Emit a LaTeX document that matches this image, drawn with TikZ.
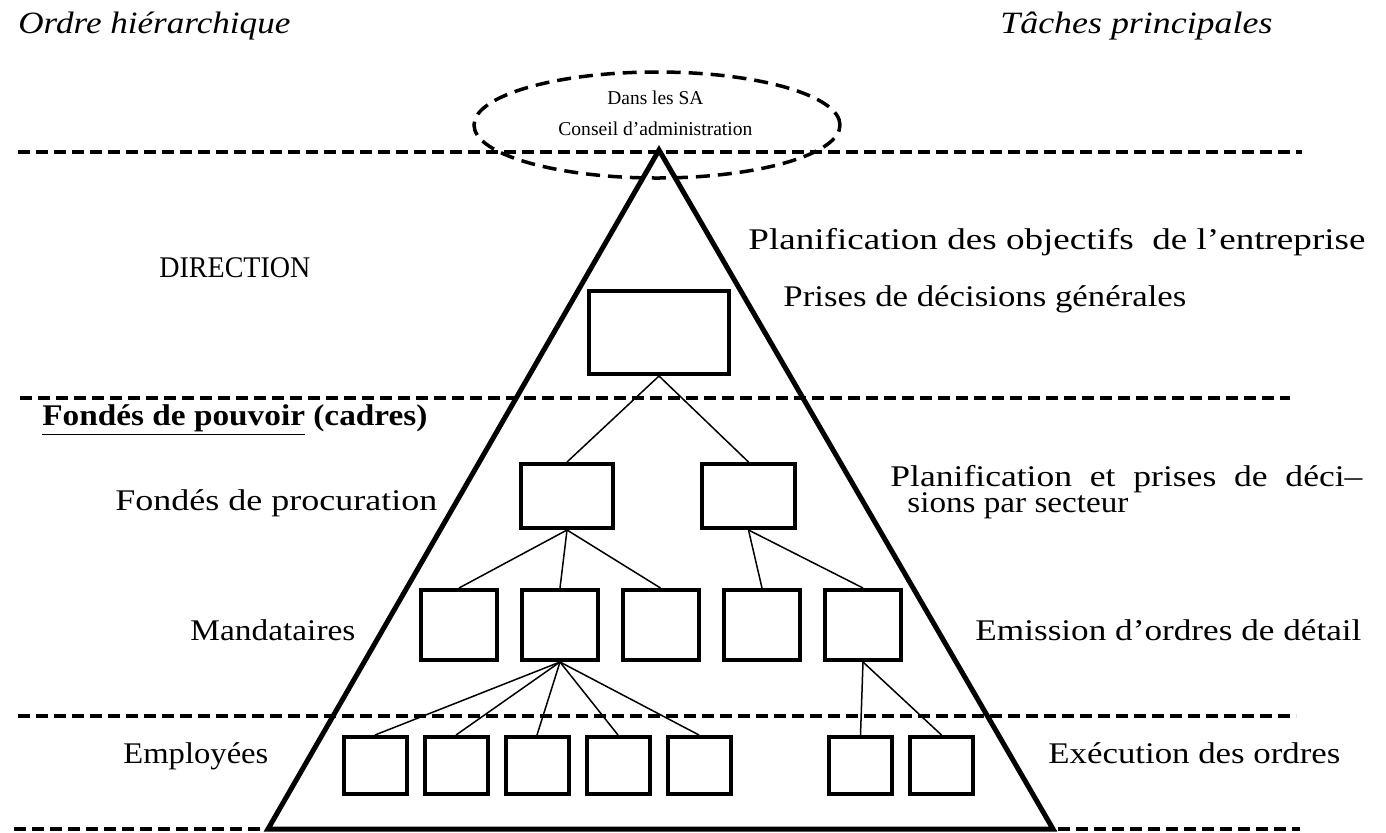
\documentclass[tikz,border=0pt]{standalone}
\usepackage{fontspec}
\usepackage{graphicx}
\setmainfont{Liberation Serif}
\usetikzlibrary{shapes.geometric}
\newcommand\fitw[2]{\resizebox{#1}{\height}{#2}}
\tikzset{
  lvl/.style={line width=2pt, dash pattern=on 6pt off 3pt},
  tri/.style={line width=2.5pt, line join=miter},
  box/.style={draw, line width=2pt, inner sep=0pt, fill=white},
  conn/.style={line width=0.75pt},
  lbl/.style={anchor=base west, inner sep=0pt, font=\fontsize{15pt}{18pt}\selectfont},
  head/.style={anchor=base west, inner sep=0pt, font=\fontsize{15.5pt}{18pt}\selectfont\itshape},
  small/.style={anchor=base west, inner sep=0pt, font=\fontsize{9.8pt}{11pt}\selectfont},
  ell/.style={draw, ellipse, line width=1.75pt, dash pattern=on 7pt off 4pt, inner sep=0pt}
}
\begin{document}
\begin{tikzpicture}[x=0.5pt,y=-0.5pt]
\useasboundingbox (0,0) rectangle (1386,832);
% level lines
\coordinate (l1a) at (18,152);  \coordinate (l1b) at (1302,152);
\coordinate (l2a) at (20,398);  \coordinate (l2b) at (1290,398);
\coordinate (l3a) at (18,716);  \coordinate (l3b) at (1296,716);
\coordinate (l4a) at (14,829);  \coordinate (l4b) at (1300,829);
\draw[lvl] (l1a) -- (l1b);
\draw[lvl] (l2a) -- (l2b);
\draw[lvl] (l3a) -- (l3b);
\draw[lvl] (l4a) -- (l4b);
% pyramid
\coordinate (apex) at (659,150);
\coordinate (bl) at (268,829);
\coordinate (br) at (1053,829);
\draw[tri] (apex) -- (bl) -- (br) -- cycle;
% boxes
\node[box, minimum width=70pt, minimum height=41.5pt] (d) at (659,332.5) {};
\node[box, minimum width=46pt, minimum height=32pt] (p1) at (567,496) {};
\node[box, minimum width=46.5pt, minimum height=32pt] (p2) at (748.5,496) {};
\foreach \n/\x in {1/459,2/560,3/660.5,4/762,5/863}
  \node[box, minimum width=38pt, minimum height=35pt] (m\n) at (\x,625) {};
\foreach \n/\x in {1/375,2/456,3/537,4/618,5/699,6/860.5,7/941.5}
  \node[box, minimum width=31.5pt, minimum height=28.5pt] (e\n) at (\x,765.5) {};
% connectors
\draw[conn] (d.south) -- (p1.north);
\draw[conn] (d.south) -- (p2.north);
\draw[conn] (p1.south) -- (m1.north);
\draw[conn] (p1.south) -- (m2.north);
\draw[conn] (p1.south) -- (m3.north);
\draw[conn] (p2.south) -- (m4.north);
\draw[conn] (p2.south) -- (m5.north);
\foreach \n in {1,...,5} \draw[conn] (m2.south) -- (e\n.north);
\draw[conn] (m5.south) -- (e6.north);
\draw[conn] (m5.south) -- (e7.north);
% board ellipse
\node[ell, minimum width=183pt, minimum height=53pt] (ca) at (657,125) {};
\node[small] (ca1) at (607,104) {\fitw{48pt}{Dans les SA}};
\node[small] (ca2) at (558,135) {\fitw{97pt}{Conseil d’administration}};
% headings
\node[head] (h1) at (18,33) {\fitw{136pt}{Ordre hiérarchique}};
\node[head] (h2) at (1000,33) {\fitw{136pt}{Tâches principales}};
% left labels
\node[lbl] (t1) at (159,277) {\fitw{75.5pt}{DIRECTION}};
\node[lbl] (t2) at (42,425) {\fitw{192.5pt}{\bfseries\underline{Fondés de pouvoir} (cadres)}};
\node[lbl] (t3) at (115,510) {\fitw{161pt}{Fondés de procuration}};
\node[lbl] (t4) at (190,640) {\fitw{82.5pt}{Mandataires}};
\node[lbl] (t5) at (123,763) {\fitw{72.5pt}{Employées}};
% right labels
\node[lbl] (r1) at (748,249) {\fitw{308.5pt}{Planification des objectifs\ \ de l’entreprise}};
\node[lbl] (r2) at (783,306) {\fitw{201.5pt}{Prises de décisions générales}};
\node[lbl] (r3) at (890,486) {\vtop{\baselineskip=13pt\lineskiplimit=-20pt
  \hbox{\fitw{236pt}{Planification\ \ et\ \ prises\ \ de\ \ déci–}}
  \hbox{\hspace*{8.5pt}\fitw{110.5pt}{sions par secteur}}}};
\node[lbl] (r4) at (975,640) {\fitw{193pt}{Emission d’ordres de détail}};
\node[lbl] (r5) at (1048,763) {\fitw{146pt}{Exécution des ordres}};
\end{tikzpicture}
\end{document}
